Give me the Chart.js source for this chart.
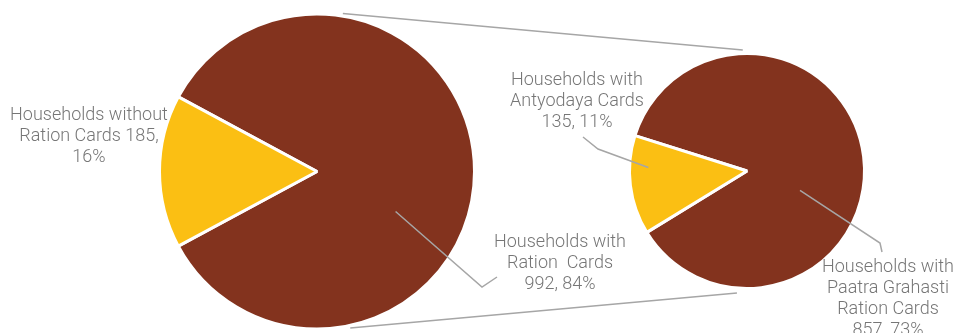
<!DOCTYPE html>
<html>
<head>
<meta charset="utf-8">
<script src="https://cdn.jsdelivr.net/npm/chart.js@4/dist/chart.umd.min.js"></script>
<style>
  html, body { margin: 0; padding: 0; background: #fff; }
  #wrap { position: relative; width: 955px; height: 333px; }
  #wrap canvas { position: absolute; left: 0; top: 0; }
</style>
</head>
<body>
<div id="wrap">
  <canvas id="mainPie" width="955" height="333"></canvas>
  <canvas id="subPie" width="955" height="333"></canvas>
</div>
<script>
// main pie: all households
const mainLabels = ["Households with Ration Cards", "Households without Ration Cards"];
const mainValues = [992, 185];
// second pie: split of the households with ration cards
const subLabels = ["Households with Paatra Grahasti Ration Cards", "Households with Antyodaya Cards"];
const subValues = [857, 135];

const MAROON = "#83331e";
const YELLOW = "#fbbf13";
const GREY_TEXT = "#767676";
const GREY_LINE = "#a6a6a6";

const total = mainValues[0] + mainValues[1];
const pct = (v) => Math.round((v / total) * 100) + "%";

// label text + where it sits (layout only)
const labelBoxes = [
  { chart: "main", idx: 1, x: 89, y: 115, lines: ["Households without", "Ration Cards " + mainValues[1] + ",", pct(mainValues[1])] },
  { chart: "main", idx: 0, x: 560, y: 242, lines: ["Households with", "Ration  Cards", mainValues[0] + ", " + pct(mainValues[0])],
    leader: { ang: 27, frac: 0.56, bend: [482, 287], end: [497, 277] } },
  { chart: "sub", idx: 1, x: 577, y: 80, lines: ["Households with", "Antyodaya Cards", subValues[1] + ", " + pct(subValues[1])],
    leader: { ang: 182, frac: 0.84, bend: [598, 149], end: [583, 137] } },
  { chart: "sub", idx: 0, x: 888, y: 267, lines: ["Households with", "Paatra Grahasti", "Ration Cards", subValues[0] + ", " + pct(subValues[0])],
    leader: { ang: 20, frac: 0.48, bend: [880, 243], end: [882, 252] } },
];

const baseOptions = (rotation, pad) => ({
  responsive: false,
  animation: false,
  devicePixelRatio: 1,
  rotation: rotation,
  layout: { padding: pad },
  plugins: { legend: { display: false }, tooltip: { enabled: false } },
});

const mainChart = new Chart(document.getElementById("mainPie"), {
  type: "pie",
  data: {
    labels: mainLabels,
    datasets: [{ data: mainValues, backgroundColor: [MAROON, YELLOW], borderColor: "#fff", borderWidth: 3, radius: 157.5, clip: false }],
  },
  options: baseOptions(298.3, { left: 0, right: 321, top: 10, bottom: 0 }),
});

function arcPoint(arc, angDeg, r) {
  const a = (angDeg * Math.PI) / 180;
  return [arc.x + r * Math.cos(a), arc.y + r * Math.sin(a)];
}

const overlayPlugin = {
  id: "overlay",
  afterDraw(chart) {
    const ctx = chart.ctx;
    const big = mainChart.getDatasetMeta(0).data[0];
    const small = chart.getDatasetMeta(0).data[0];
    const R1 = big.outerRadius, R2 = small.outerRadius;

    ctx.save();
    ctx.strokeStyle = GREY_LINE;
    ctx.lineWidth = 1.5;
    // connector lines between the two pies
    let p = arcPoint(big, -80.7, R1 + 2.5), q = arcPoint(small, -92, R2 + 3.5);
    ctx.beginPath(); ctx.moveTo(p[0], p[1]); ctx.lineTo(q[0], q[1]); ctx.stroke();
    p = arcPoint(big, 78, R1 + 2.5); q = arcPoint(small, 94.7, R2 + 5);
    ctx.beginPath(); ctx.moveTo(p[0], p[1]); ctx.lineTo(q[0], q[1]); ctx.stroke();

    // leader lines
    labelBoxes.forEach((lb) => {
      if (!lb.leader) return;
      const arc = lb.chart === "main" ? big : small;
      const r = lb.chart === "main" ? R1 : R2;
      const s = arcPoint(arc, lb.leader.ang, r * lb.leader.frac);
      ctx.beginPath();
      ctx.moveTo(s[0], s[1]);
      ctx.lineTo(lb.leader.bend[0], lb.leader.bend[1]);
      ctx.lineTo(lb.leader.end[0], lb.leader.end[1]);
      ctx.stroke();
    });

    // labels
    ctx.fillStyle = GREY_TEXT;
    ctx.font = "300 18px Roboto";
    ctx.textAlign = "center";
    ctx.textBaseline = "middle";
    labelBoxes.forEach((lb) => {
      lb.lines.forEach((t, i) => ctx.fillText(t, lb.x, lb.y + i * 21));
    });
    ctx.restore();
  },
};

const subChart = new Chart(document.getElementById("subPie"), {
  type: "pie",
  data: {
    labels: subLabels,
    datasets: [{ data: subValues, backgroundColor: [MAROON, YELLOW], borderColor: "#fff", borderWidth: 3, radius: 117.5, clip: false }],
  },
  options: baseOptions(287.5, { left: 557, right: 18, top: 9, bottom: 0 }),
  plugins: [overlayPlugin],
});
</script>
</body>
</html>
